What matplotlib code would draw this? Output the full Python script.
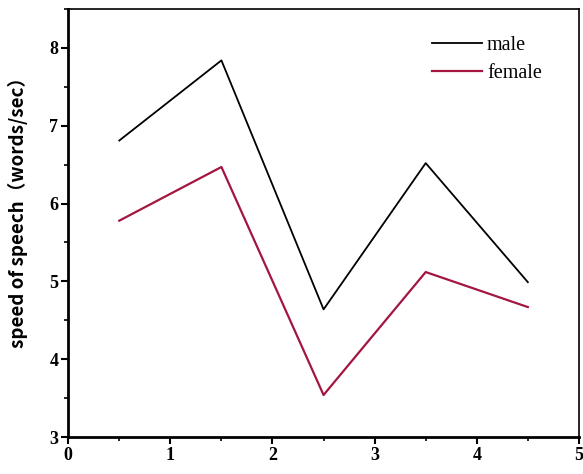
import matplotlib
matplotlib.use("Agg")
import matplotlib.pyplot as plt
from matplotlib.ticker import MultipleLocator

# speaking speed per position, sampled at the half-unit points
positions = [0.5, 1.5, 2.5, 3.5, 4.5]
male = [6.81, 7.84, 4.64, 6.52, 4.99]
female = [5.78, 6.47, 3.54, 5.12, 4.67]

x_ticks = [0, 1, 2, 3, 4, 5]
y_ticks = [3, 4, 5, 6, 7, 8]

plt.rcParams['font.family'] = ['Liberation Serif', 'Noto Sans CJK SC']
plt.rcParams['font.weight'] = 'bold'


def main():
    fig = plt.figure(figsize=(5.83, 4.74), dpi=100)
    ax = fig.add_axes([0.117, 0.078, 0.876, 0.903])

    ax.plot(positions, male, color='black', lw=1.3, label='male')
    ax.plot(positions, female, color='#a3163f', lw=1.6, label='female')

    ax.set_xlim(0, 5)
    ax.set_ylim(3, 8.5)
    ax.set_xticks(x_ticks)
    ax.set_yticks(y_ticks)
    ax.xaxis.set_minor_locator(MultipleLocator(0.5))
    ax.yaxis.set_minor_locator(MultipleLocator(0.5))
    ax.tick_params(which='major', direction='out', length=5, width=1.5,
                   labelsize=13, pad=2)
    ax.tick_params(which='minor', direction='out', length=3, width=1.2)
    for lbl in ax.get_xticklabels() + ax.get_yticklabels():
        lbl.set_fontweight('bold')

    ax.spines['left'].set_linewidth(2.0)
    ax.spines['bottom'].set_linewidth(2.0)
    ax.spines['top'].set_linewidth(1.2)
    ax.spines['right'].set_linewidth(1.2)

    ax.set_ylabel('speed of speech（words/sec）', fontsize=13.5,
                  fontweight='bold', family=['Noto Sans CJK SC'])
    ax.yaxis.set_label_coords(-0.078, 0.535)

    ax.legend(loc='upper right', bbox_to_anchor=(0.963, 0.98), frameon=False,
              handlelength=2.5, handletextpad=0.25, labelspacing=0.45,
              prop={'family': 'Liberation Serif', 'size': 14.5,
                    'weight': 'normal'})

    fig.savefig('out.png', dpi=100)


if __name__ == '__main__':
    main()
